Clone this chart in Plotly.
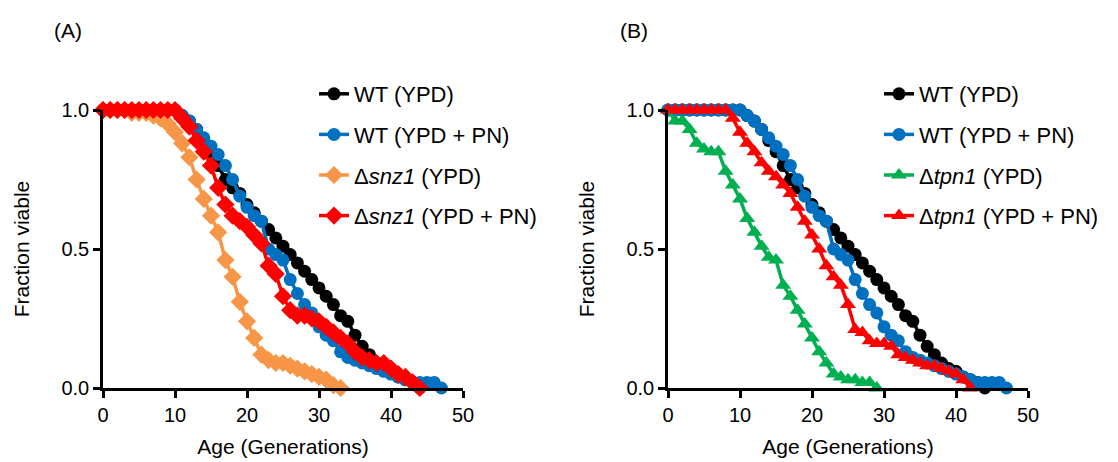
import plotly.graph_objects as go

# ---------------- data ----------------
gen_wt = list(range(0, 45))
wt_ypd = [1.0]*11 + [0.98, 0.96, 0.93, 0.89, 0.85, 0.80, 0.75, 0.72, 0.70, 0.66,
                     0.63, 0.60, 0.57, 0.54, 0.51, 0.48, 0.45, 0.42, 0.39, 0.36,
                     0.33, 0.30, 0.26, 0.24, 0.19, 0.15, 0.12, 0.09, 0.07, 0.06,
                     0.04, 0.03, 0.02, 0.0]

gen_wt_pn = list(range(0, 48))
wt_ypd_pn = [1.0]*11 + [0.98, 0.96, 0.93, 0.90, 0.87, 0.84, 0.80, 0.75, 0.69, 0.65,
                        0.62, 0.60, 0.50, 0.48, 0.46, 0.39, 0.34, 0.30, 0.27, 0.22,
                        0.19, 0.17, 0.13, 0.11, 0.10, 0.09, 0.08, 0.07, 0.06, 0.05,
                        0.04, 0.03, 0.02, 0.02, 0.02, 0.02, 0.0]

gen_snz = list(range(0, 34))
snz1_ypd = [1.0, 1.0, 1.0, 1.0, 0.99, 0.99, 0.99, 0.98, 0.97, 0.95, 0.92, 0.88,
            0.83, 0.75, 0.68, 0.62, 0.56, 0.46, 0.40, 0.31, 0.24, 0.18, 0.12,
            0.10, 0.09, 0.09, 0.08, 0.07, 0.06, 0.05, 0.04, 0.03, 0.01, 0.0]

gen_snz_pn = list(range(0, 45))
snz1_ypd_pn = [1.0]*11 + [0.97, 0.94, 0.89, 0.85, 0.80, 0.72, 0.66, 0.62, 0.60, 0.58,
                          0.55, 0.52, 0.44, 0.41, 0.33, 0.28, 0.26, 0.26, 0.25, 0.24,
                          0.22, 0.20, 0.18, 0.16, 0.13, 0.11, 0.10, 0.09, 0.09, 0.07,
                          0.05, 0.04, 0.02, 0.0]

gen_tpn = list(range(0, 30))
tpn1_ypd = [1.0, 0.96, 0.96, 0.93, 0.88, 0.86, 0.85, 0.85, 0.78, 0.73, 0.68, 0.61,
            0.56, 0.51, 0.47, 0.46, 0.37, 0.33, 0.28, 0.23, 0.18, 0.13, 0.09,
            0.05, 0.04, 0.03, 0.03, 0.02, 0.02, 0.0]

gen_tpn_pn = list(range(0, 43))
tpn1_ypd_pn = [1.0]*9 + [0.97, 0.92, 0.88, 0.85, 0.81, 0.78, 0.76, 0.73, 0.70, 0.65,
                         0.60, 0.55, 0.50, 0.44, 0.40, 0.37, 0.30, 0.21, 0.20, 0.17,
                         0.16, 0.16, 0.15, 0.12, 0.11, 0.10, 0.09, 0.08, 0.08, 0.07,
                         0.06, 0.05, 0.03, 0.0]

x_ticks = [0, 10, 20, 30, 40, 50]
y_ticks = [0.0, 0.5, 1.0]

BLACK = "#000000"
BLUE = "#0070C0"
ORANGE = "#F79646"
RED = "#FF0000"
GREEN = "#00B050"

FONT = "Liberation Sans, Arial, sans-serif"

fig = go.Figure()

def add(x, y, name, color, symbol, xa, ya, legend, size=12):
    fig.add_trace(go.Scatter(
        x=x, y=y, name=name, mode="lines+markers",
        line=dict(color=color, width=3.5),
        marker=dict(color=color, symbol=symbol, size=size),
        xaxis=xa, yaxis=ya, legend=legend, legendgroup=name + legend,
        cliponaxis=False))

# Panel A
add(gen_wt, wt_ypd, "WT (YPD)", BLACK, "circle", "x", "y", "legend", 13)
add(gen_wt_pn, wt_ypd_pn, "WT (YPD + PN)", BLUE, "circle", "x", "y", "legend", 13)
add(gen_snz, snz1_ypd, "Δ<i>snz1</i> (YPD)", ORANGE, "diamond", "x", "y", "legend", 14)
add(gen_snz_pn, snz1_ypd_pn, "Δ<i>snz1</i> (YPD + PN)", RED, "diamond", "x", "y", "legend", 14)
# Panel B
add(gen_wt, wt_ypd, "WT (YPD)", BLACK, "circle", "x2", "y2", "legend2", 13)
add(gen_wt_pn, wt_ypd_pn, "WT (YPD + PN)", BLUE, "circle", "x2", "y2", "legend2", 13)
add(gen_tpn, tpn1_ypd, "Δ<i>tpn1</i> (YPD)", GREEN, "triangle-up", "x2", "y2", "legend2", 14)
add(gen_tpn_pn, tpn1_ypd_pn, "Δ<i>tpn1</i> (YPD + PN)", RED, "triangle-up", "x2", "y2", "legend2", 14)

W, H = 1118, 462
def px_x(p):
    return p / W
def px_y(p):
    return 1 - p / H

xaxis_common = dict(
    range=[0, 50], tickvals=x_ticks, showline=True, linecolor="black", linewidth=2.5,
    ticks="outside", ticklen=7, tickwidth=2.5, tickcolor="black", showgrid=False,
    zeroline=False, tickfont=dict(family=FONT, size=20, color="black"),
    title=dict(text="Age (Generations)", font=dict(family=FONT, size=21, color="black"), standoff=15),
    fixedrange=True,
)
yaxis_common = dict(
    range=[0, 1.0], tickvals=y_ticks, tickformat=".1f", showline=True, linecolor="black",
    linewidth=2.5, ticks="outside", ticklen=7, tickwidth=2.5, tickcolor="black",
    showgrid=False, zeroline=False, tickfont=dict(family=FONT, size=20, color="black"),
    title=dict(text="Fraction viable", font=dict(family=FONT, size=21, color="black"), standoff=27),
    fixedrange=True,
)

legend_common = dict(
    font=dict(family=FONT, size=22, color="black"), bgcolor="rgba(0,0,0,0)",
    tracegroupgap=9, xanchor="left", yanchor="top",
)

fig.update_layout(
    width=W, height=H, template="none",
    paper_bgcolor="white", plot_bgcolor="white",
    margin=dict(l=0, r=0, t=0, b=0),
    showlegend=True,
    xaxis=dict(domain=[px_x(103), px_x(463)], anchor="y", **xaxis_common),
    yaxis=dict(domain=[px_y(388), px_y(110)], anchor="x", **yaxis_common),
    xaxis2=dict(domain=[px_x(668), px_x(1028)], anchor="y2", **xaxis_common),
    yaxis2=dict(domain=[px_y(388), px_y(110)], anchor="x2", **yaxis_common),
    legend=dict(x=px_x(314), y=px_y(73), **legend_common),
    legend2=dict(x=px_x(879), y=px_y(73), **legend_common),
    annotations=[
        dict(text="(A)", x=px_x(68), y=px_y(30), xref="paper", yref="paper",
             xanchor="center", yanchor="middle",
             showarrow=False, font=dict(family=FONT, size=21, color="black")),
        dict(text="(B)", x=px_x(634), y=px_y(30), xref="paper", yref="paper",
             xanchor="center", yanchor="middle",
             showarrow=False, font=dict(family=FONT, size=21, color="black")),
    ],
)

fig.write_html("out.html")
